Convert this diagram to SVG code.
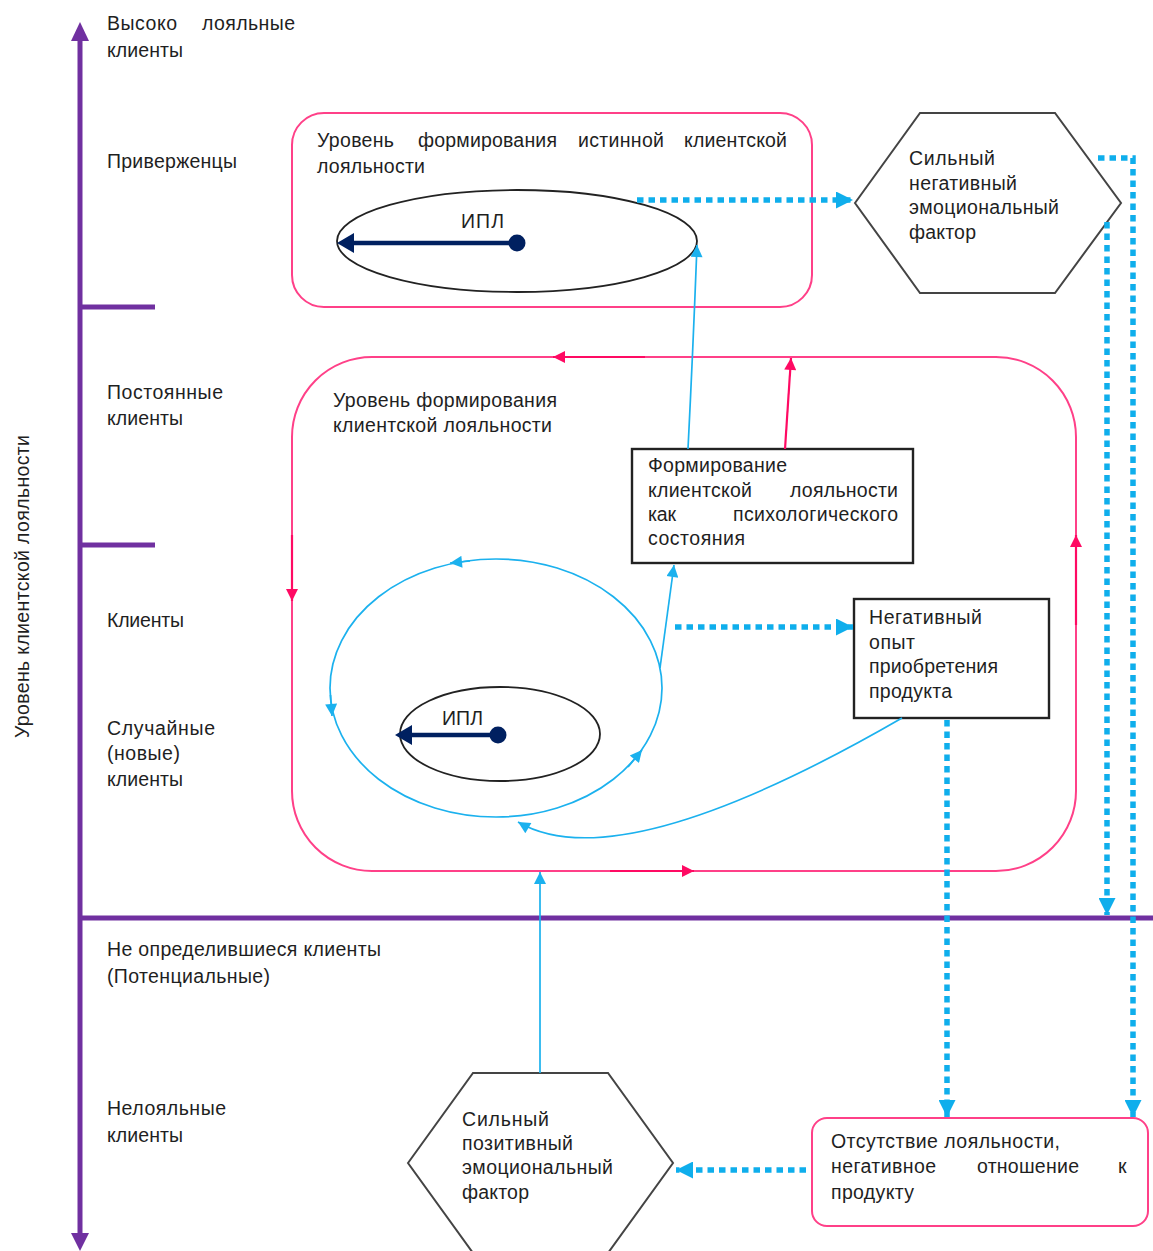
<svg xmlns="http://www.w3.org/2000/svg" width="1153" height="1251" viewBox="0 0 1153 1251">
<defs>
<style>
.t{font-family:"Liberation Sans",Arial,sans-serif;font-size:19.5px;fill:#1f1f1f}
.pb{fill:none;stroke:#FF4088;stroke-width:2}
.pd{fill:none;stroke:#FF0A63;stroke-width:2.2}
.bl{fill:none;stroke:#1BB1EE;stroke-width:1.7}
.dot{fill:none;stroke:#0FAEEC;stroke-width:5.5;stroke-dasharray:6.5 5}
.blk{fill:none;stroke:#222;stroke-width:1.8}
.box{fill:#fff;stroke:#222;stroke-width:2.4}
.hex{fill:#fff;stroke:#444;stroke-width:2}
.nv{stroke:#002060;stroke-width:4.5;fill:none}
.pu{stroke:#7030A0;stroke-width:5;fill:none}
</style>
<marker id="mb" viewBox="0 0 10 10" refX="10" refY="5" markerWidth="14" markerHeight="12" markerUnits="userSpaceOnUse" orient="auto"><path d="M0,0 L10,5 L0,10 z" fill="#1BB1EE"/></marker>
<marker id="md" viewBox="0 0 10 10" refX="10" refY="5" markerWidth="17" markerHeight="17" markerUnits="userSpaceOnUse" orient="auto"><path d="M0,0 L10,5 L0,10 z" fill="#0FAEEC"/></marker>
<marker id="mp" viewBox="0 0 10 10" refX="10" refY="5" markerWidth="14" markerHeight="12" markerUnits="userSpaceOnUse" orient="auto"><path d="M0,0 L10,5 L0,10 z" fill="#FF0A63"/></marker>
</defs>
<rect width="1153" height="1251" fill="#fff"/>

<g id="axis">
<path class="pu" d="M80,38 L80,1235"/>
<polygon points="80,22 71,41 89,41" fill="#7030A0"/>
<polygon points="80,1251 71,1233 89,1233" fill="#7030A0"/>
<path class="pu" d="M80,307 L155,307 M80,545 L155,545 M80,918 L1153,918"/>
<text class="t" transform="translate(29,738) rotate(-90)" textLength="303" lengthAdjust="spacing">Уровень клиентской лояльности</text>
</g>

<g id="levels">
<text class="t" x="107" y="30" textLength="70">Высоко</text>
<text class="t" x="202" y="30" textLength="93">лояльные</text>
<text class="t" x="107" y="57" textLength="76">клиенты</text>
<text class="t" x="107" y="168" textLength="130">Приверженцы</text>
<text class="t" x="107" y="399" textLength="116">Постоянные</text>
<text class="t" x="107" y="425" textLength="76">клиенты</text>
<text class="t" x="107" y="627" textLength="77">Клиенты</text>
<text class="t" x="107" y="735" textLength="108">Случайные</text>
<text class="t" x="107" y="760" textLength="73">(новые)</text>
<text class="t" x="107" y="786" textLength="76">клиенты</text>
<text class="t" x="107" y="956" textLength="274">Не определившиеся клиенты</text>
<text class="t" x="107" y="983" textLength="163">(Потенциальные)</text>
<text class="t" x="107" y="1115" textLength="119">Нелояльные</text>
<text class="t" x="107" y="1142" textLength="76">клиенты</text>
</g>

<g id="true-loyalty">
<rect class="pb" x="292" y="113" width="520" height="194" rx="32"/>
<text class="t" x="317" y="147" textLength="77">Уровень</text>
<text class="t" x="418" y="147" textLength="139">формирования</text>
<text class="t" x="578" y="147" textLength="86">истинной</text>
<text class="t" x="684" y="147" textLength="103">клиентской</text>
<text class="t" x="317" y="173" textLength="108">лояльности</text>
<ellipse class="blk" cx="517" cy="241" rx="180" ry="51"/>
<text class="t" x="461" y="228" textLength="43">ИПЛ</text>
<path class="nv" d="M517,243 L350,243"/>
<polygon points="337,243 354,233 354,253" fill="#002060"/>
<circle cx="517" cy="243" r="8.5" fill="#002060"/>
</g>

<g id="loyalty-level">
<rect class="pb" x="292" y="357" width="784" height="514" rx="80"/>
<text class="t" x="333" y="407" textLength="224">Уровень формирования</text>
<text class="t" x="333" y="432" textLength="219">клиентской лояльности</text>
</g>

<g id="formation">
<rect class="box" x="632" y="449" width="281" height="114"/>
<text class="t" x="648" y="472" textLength="139">Формирование</text>
<text class="t" x="648" y="497" textLength="104">клиентской</text>
<text class="t" x="790" y="497" textLength="108">лояльности</text>
<text class="t" x="648" y="521" textLength="28">как</text>
<text class="t" x="733" y="521" textLength="165">психологического</text>
<text class="t" x="648" y="545" textLength="97">состояния</text>
</g>

<g id="new-clients-loop">
<ellipse class="bl" cx="496" cy="688" rx="166" ry="129"/>
<ellipse class="blk" cx="500" cy="734" rx="100" ry="47"/>
<text class="t" x="442" y="725" textLength="41">ИПЛ</text>
<path class="nv" d="M498,735 L408,735"/>
<polygon points="395,735 412,725 412,745" fill="#002060"/>
<circle cx="498" cy="735" r="8.5" fill="#002060"/>
</g>

<g id="negative-experience">
<rect class="box" x="854" y="599" width="195" height="119"/>
<text class="t" x="869" y="624" textLength="113">Негативный</text>
<text class="t" x="869" y="649" textLength="46">опыт</text>
<text class="t" x="869" y="673" textLength="129">приобретения</text>
<text class="t" x="869" y="698" textLength="83">продукта</text>
</g>

<g id="negative-factor">
<polygon class="hex" points="855,203 920,113 1055,113 1121,203 1055,293 920,293"/>
<text class="t" x="909" y="165" textLength="86">Сильный</text>
<text class="t" x="909" y="190" textLength="108">негативный</text>
<text class="t" x="909" y="214" textLength="150">эмоциональный</text>
<text class="t" x="909" y="239" textLength="67">фактор</text>
</g>

<g id="positive-factor">
<polygon class="hex" points="408,1163 473,1073 608,1073 673,1163 608,1253 473,1253"/>
<text class="t" x="462" y="1126" textLength="87">Сильный</text>
<text class="t" x="462" y="1150" textLength="111">позитивный</text>
<text class="t" x="462" y="1174" textLength="151">эмоциональный</text>
<text class="t" x="462" y="1199" textLength="67">фактор</text>
</g>

<g id="no-loyalty">
<rect class="pb" x="812" y="1118" width="336" height="108" rx="15"/>
<text class="t" x="831" y="1148" textLength="229">Отсутствие лояльности,</text>
<text class="t" x="831" y="1173" textLength="105">негативное</text>
<text class="t" x="977" y="1173" textLength="102">отношение</text>
<text class="t" x="1118" y="1173" textLength="10">к</text>
<text class="t" x="831" y="1199" textLength="83">продукту</text>
</g>

<g id="connectors">
<path class="pd" d="M645,357 L553,357" marker-end="url(#mp)"/>
<path class="pd" d="M292,535 L292,601" marker-end="url(#mp)"/>
<path class="pd" d="M610,871 L694,871" marker-end="url(#mp)"/>
<path class="pd" d="M1076,625 L1076,535" marker-end="url(#mp)"/>
<path class="pd" d="M785,449 L791,358" marker-end="url(#mp)"/>

<path class="bl" d="M688,449 Q693,350 697,245" marker-end="url(#mb)"/>
<path class="bl" d="M660,668 L674,565" marker-end="url(#mb)"/>
<path class="bl" d="M540,1073 L540,872" marker-end="url(#mb)"/>
<path class="bl" d="M902,718 C760,800 600,870 518,822" marker-end="url(#mb)"/>
<path class="bl" d="M470,561 L450,563" marker-end="url(#mb)"/>
<path class="bl" d="M330.5,695 L332,716" marker-end="url(#mb)"/>
<path class="bl" d="M628,767 L642,750" marker-end="url(#mb)"/>

<path class="dot" d="M637,200 L853,200" marker-end="url(#md)"/>
<path class="dot" d="M1098,158 L1133,158 L1133,1117" marker-end="url(#md)"/>
<path class="dot" d="M1107,222 L1107,915" marker-end="url(#md)"/>
<path class="dot" d="M675,627 L853,627" marker-end="url(#md)"/>
<path class="dot" d="M947,720 L947,1117" marker-end="url(#md)"/>
<path class="dot" d="M806,1170 L676,1170" marker-end="url(#md)"/>
</g>
</svg>
